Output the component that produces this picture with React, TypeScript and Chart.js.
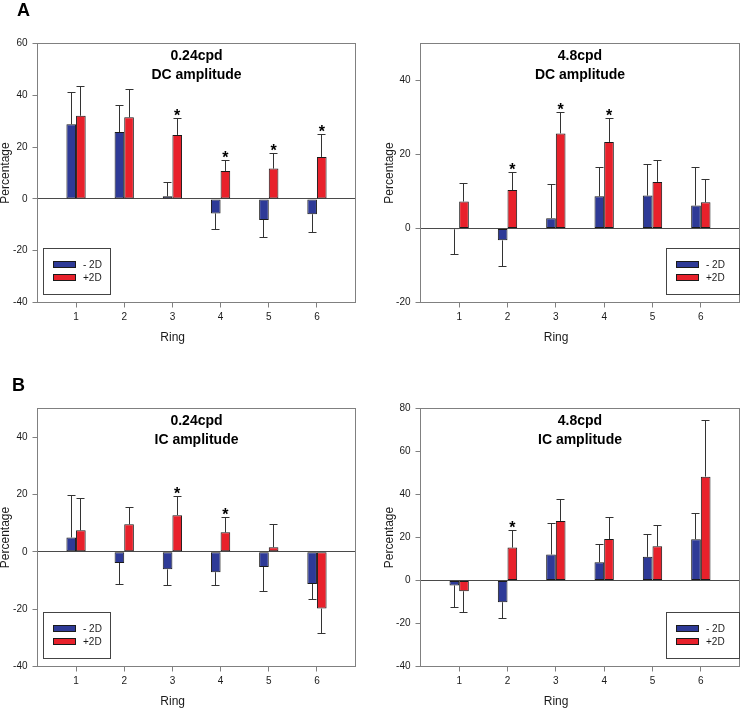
import React, { useEffect, useRef } from 'react';
import { Chart, registerables } from 'chart.js';

Chart.register(...registerables);

// ---------------- data ----------------
const RINGS = [1, 2, 3, 4, 5, 6];
const SERIES_NAMES = ['- 2D', '+2D'];
const X_TICKS = [1, 2, 3, 4, 5, 6];

// A: 0.24cpd DC amplitude
const DC024_MINUS = [28.8, 25.8, 1.0, -5.6, -8.1, -5.9];
const DC024_MINUS_ERR = [12.4, 10.5, 5.7, 6.2, 6.5, 6.9];
const DC024_PLUS = [32.1, 31.5, 24.7, 10.8, 11.7, 16.2];
const DC024_PLUS_ERR = [11.4, 10.8, 6.5, 4.3, 5.9, 8.7];
const DC024_STARS = [false, false, true, true, true, true];

// A: 4.8cpd DC amplitude
const DC48_MINUS = [-0.2, -3.2, 2.8, 8.7, 8.9, 6.2];
const DC48_MINUS_ERR = [6.8, 6.8, 9.2, 8.0, 8.5, 10.4];
const DC48_PLUS = [7.3, 10.4, 25.7, 23.4, 12.6, 7.1];
const DC48_PLUS_ERR = [5.1, 5.0, 5.8, 6.6, 6.0, 6.4];
const DC48_STARS = [false, true, true, true, false, false];

// B: 0.24cpd IC amplitude
const IC024_MINUS = [5.0, -3.9, -6.1, -7.1, -5.3, -11.2];
const IC024_MINUS_ERR = [15.0, 7.3, 5.3, 4.5, 8.3, 5.4];
const IC024_PLUS = [7.5, 9.6, 12.8, 6.8, 1.6, -19.8];
const IC024_PLUS_ERR = [11.3, 6.1, 6.7, 5.2, 8.2, 8.4];
const IC024_STARS = [false, false, true, true, false, false];

// B: 4.8cpd IC amplitude
const IC48_MINUS = [-2.3, -10.1, 12.1, 8.5, 11.0, 19.2];
const IC48_MINUS_ERR = [10.1, 7.2, 14.5, 8.4, 10.8, 12.4];
const IC48_PLUS = [-5.0, 15.3, 27.7, 19.3, 15.9, 48.3];
const IC48_PLUS_ERR = [9.7, 8.1, 10.4, 10.4, 9.8, 26.2];
const IC48_STARS = [false, true, false, false, false, false];

// axis ranges
const X_RANGE = [0.2, 6.8];
const DC024_Y = [-40, 60];
const DC48_Y = [-20, 50];
const IC024_Y = [-40, 50];
const IC48_Y = [-40, 80];
const Y_STEP = 20;

// ---------------- styles ----------------
const FONT = '"Liberation Sans", Arial, Helvetica, sans-serif';
const BLUE = '#2E3A97';
const RED = '#E8212B';
const BAR_BORDER = '#1a1a1a';
const FRAME = '#808080';
const ERR_COLOR = '#333333';
const TEXT = '#1a1a1a';

type PanelDef = {
  line1: string;
  line2: string;
  minus: number[];
  minusErr: number[];
  plus: number[];
  plusErr: number[];
  stars: boolean[];
  yRange: number[];
};

type Layout = {
  x: number; y: number; w: number; h: number;
  pad: { left: number; top: number; right: number; bottom: number };
  yW: number; xH: number;
  legend: 'left' | 'right';
  letter?: { text: string; x: number; y: number };
  ringBaseline: number;
};

const PANELS: { def: PanelDef; layout: Layout }[] = [
  {
    def: { line1: '0.24cpd', line2: 'DC amplitude', minus: DC024_MINUS, minusErr: DC024_MINUS_ERR, plus: DC024_PLUS, plusErr: DC024_PLUS_ERR, stars: DC024_STARS, yRange: DC024_Y },
    layout: { x: 0, y: 0, w: 370, h: 350, pad: { left: 0, top: 43.5, right: 14.5, bottom: 7.5 }, yW: 37.5, xH: 40, legend: 'left', letter: { text: 'A', x: 17, y: 16 }, ringBaseline: 341.1 },
  },
  {
    def: { line1: '4.8cpd', line2: 'DC amplitude', minus: DC48_MINUS, minusErr: DC48_MINUS_ERR, plus: DC48_PLUS, plusErr: DC48_PLUS_ERR, stars: DC48_STARS, yRange: DC48_Y },
    layout: { x: 370, y: 0, w: 370, h: 350, pad: { left: 14.3, top: 43.5, right: 0.5, bottom: 7.5 }, yW: 36.2, xH: 40, legend: 'right', ringBaseline: 341.1 },
  },
  {
    def: { line1: '0.24cpd', line2: 'IC amplitude', minus: IC024_MINUS, minusErr: IC024_MINUS_ERR, plus: IC024_PLUS, plusErr: IC024_PLUS_ERR, stars: IC024_STARS, yRange: IC024_Y },
    layout: { x: 0, y: 350, w: 370, h: 358, pad: { left: 0, top: 58.5, right: 14.5, bottom: 1.5 }, yW: 37.5, xH: 40, legend: 'left', letter: { text: 'B', x: 12, y: 40.7 }, ringBaseline: 355.3 },
  },
  {
    def: { line1: '4.8cpd', line2: 'IC amplitude', minus: IC48_MINUS, minusErr: IC48_MINUS_ERR, plus: IC48_PLUS, plusErr: IC48_PLUS_ERR, stars: IC48_STARS, yRange: IC48_Y },
    layout: { x: 370, y: 350, w: 370, h: 358, pad: { left: 14.3, top: 58.5, right: 0.5, bottom: 1.5 }, yW: 36.2, xH: 40, legend: 'right', ringBaseline: 355.3 },
  },
];

function makeDecor(def: PanelDef, layout: Layout) {
  return {
    id: 'panelDecor',
    afterDatasetsDraw(chart: any) {
      const ctx = chart.ctx as CanvasRenderingContext2D;
      const yScale = chart.scales.y;
      const errSets = [def.minusErr, def.plusErr];
      ctx.save();
      chart.data.datasets.forEach((ds: any, di: number) => {
        const meta = chart.getDatasetMeta(di);
        meta.data.forEach((el: any, j: number) => {
          const v = ds.data[j].y as number;
          const e = errSets[di][j];
          const end = v >= 0 ? v + e : v - e;
          const yEnd = Math.round(yScale.getPixelForValue(end)) + 0.5;
          const px = Math.floor(el.x) + 0.5;
          ctx.strokeStyle = ERR_COLOR;
          ctx.lineWidth = 1;
          ctx.beginPath();
          ctx.moveTo(px, el.y);
          ctx.lineTo(px, yEnd);
          ctx.moveTo(px - 4, yEnd);
          ctx.lineTo(px + 4, yEnd);
          ctx.stroke();
          if (di === 1 && def.stars[j]) {
            ctx.fillStyle = '#000';
            ctx.font = `bold 16px ${FONT}`;
            ctx.textAlign = 'center';
            ctx.textBaseline = 'alphabetic';
            ctx.fillText('*', el.x, yEnd + 2.2);
          }
        });
      });
      ctx.restore();
    },
    afterDraw(chart: any) {
      const ctx = chart.ctx as CanvasRenderingContext2D;
      const a = chart.chartArea;
      ctx.save();
      // frame
      ctx.strokeStyle = FRAME;
      ctx.lineWidth = 1;
      ctx.strokeRect(a.left, a.top, a.right - a.left, a.bottom - a.top);
      // titles
      const cx = (a.left + a.right) / 2;
      ctx.fillStyle = '#000';
      ctx.font = `bold 14px ${FONT}`;
      ctx.textAlign = 'center';
      ctx.textBaseline = 'alphabetic';
      ctx.fillText(def.line1, cx, a.top + 16.5);
      ctx.fillText(def.line2, cx, a.top + 35.8);
      // x axis title
      ctx.fillStyle = TEXT;
      ctx.font = `12px ${FONT}`;
      ctx.fillText('Ring', a.left + (a.right - a.left) * 0.425, layout.ringBaseline);
      // legend
      const boxW = layout.legend === 'left' ? 67 : 73;
      const boxLeft = layout.legend === 'left' ? a.left + 6 : a.right - 73;
      const boxBottom = a.bottom - 8;
      const boxTop = boxBottom - 46;
      ctx.fillStyle = '#fff';
      ctx.fillRect(boxLeft, boxTop, boxW, 46);
      ctx.strokeStyle = '#444';
      ctx.strokeRect(boxLeft, boxTop, boxW, 46);
      chart.data.datasets.forEach((ds: any, di: number) => {
        const sx = boxLeft + 9.5;
        const sy = boxTop + 12.5 + di * 13;
        ctx.fillStyle = ds.backgroundColor;
        ctx.fillRect(sx, sy, 23, 7);
        ctx.strokeStyle = BAR_BORDER;
        ctx.strokeRect(sx + 0.5, sy + 0.5, 22, 6);
        ctx.fillStyle = TEXT;
        ctx.font = `10px ${FONT}`;
        ctx.textAlign = 'left';
        ctx.textBaseline = 'alphabetic';
        ctx.fillText(ds.label, boxLeft + 39.5, sy + 7.1);
      });
      // panel letter
      if (layout.letter) {
        ctx.fillStyle = '#000';
        ctx.font = `bold 18px ${FONT}`;
        ctx.textAlign = 'left';
        ctx.fillText(layout.letter.text, layout.letter.x, layout.letter.y);
      }
      ctx.restore();
    },
  };
}

function buildConfig(def: PanelDef, layout: Layout): any {
  const toPoints = (vals: number[]) => RINGS.map((r, i) => ({ x: r, y: vals[i] }));
  return {
    type: 'bar',
    data: {
      datasets: [
        { label: SERIES_NAMES[0], data: toPoints(def.minus), backgroundColor: BLUE, borderColor: BAR_BORDER, borderWidth: 1, borderSkipped: false },
        { label: SERIES_NAMES[1], data: toPoints(def.plus), backgroundColor: RED, borderColor: BAR_BORDER, borderWidth: 1, borderSkipped: false },
      ],
    },
    options: {
      animation: false,
      responsive: false,
      devicePixelRatio: 1,
      events: [],
      layout: { padding: layout.pad },
      datasets: { bar: { categoryPercentage: 0.4, barPercentage: 1.0 } },
      plugins: { legend: { display: false }, tooltip: { enabled: false }, title: { display: false } },
      scales: {
        x: {
          type: 'linear',
          position: 'bottom',
          offset: false,
          min: X_RANGE[0],
          max: X_RANGE[1],
          ticks: { stepSize: 1, font: { family: FONT, size: 10 }, color: TEXT, padding: 4, maxRotation: 0, autoSkip: false, callback: (v: any) => String(v) },
          afterBuildTicks: (axis: any) => {
            axis.ticks = axis.ticks.filter((t: any) => X_TICKS.includes(t.value));
          },
          grid: { offset: false, drawOnChartArea: false, drawTicks: true, tickLength: 5, tickColor: FRAME },
          border: { display: false },
          afterFit: (s: any) => { s.height = layout.xH; },
        },
        y: {
          type: 'linear',
          position: 'left',
          min: def.yRange[0],
          max: def.yRange[1],
          ticks: { stepSize: Y_STEP, font: { family: FONT, size: 10 }, color: TEXT, padding: 5, callback: (v: any) => String(v) },
          afterBuildTicks: (axis: any) => {
            axis.ticks = axis.ticks.filter((t: any) => Math.abs(t.value % Y_STEP) < 1e-9);
          },
          grid: {
            drawOnChartArea: true,
            drawTicks: true,
            tickLength: 5,
            tickColor: FRAME,
            color: (c: any) => (c.tick && c.tick.value === 0 ? '#4a4a4a' : 'rgba(0,0,0,0)'),
          },
          border: { display: false },
          title: { display: true, text: 'Percentage', font: { family: FONT, size: 12 }, color: TEXT, padding: { top: -2, bottom: 0 } },
          afterFit: (s: any) => { s.width = layout.yW; },
        },
      },
    },
    plugins: [makeDecor(def, layout)],
  };
}

function Panel({ def, layout }: { def: PanelDef; layout: Layout }) {
  const ref = useRef<HTMLCanvasElement>(null);
  useEffect(() => {
    const chart = new Chart(ref.current as HTMLCanvasElement, buildConfig(def, layout));
    return () => chart.destroy();
  }, []);
  return (
    <canvas
      ref={ref}
      width={layout.w}
      height={layout.h}
      style={{ position: 'absolute', left: layout.x, top: layout.y, width: layout.w, height: layout.h, display: 'block' }}
    />
  );
}

export default function App() {
  return (
    <div style={{ position: 'absolute', left: 0, top: 0, width: 740, height: 708, overflow: 'hidden', background: '#fff' }}>
      {PANELS.map((p, i) => (
        <Panel key={i} def={p.def} layout={p.layout} />
      ))}
    </div>
  );
}
